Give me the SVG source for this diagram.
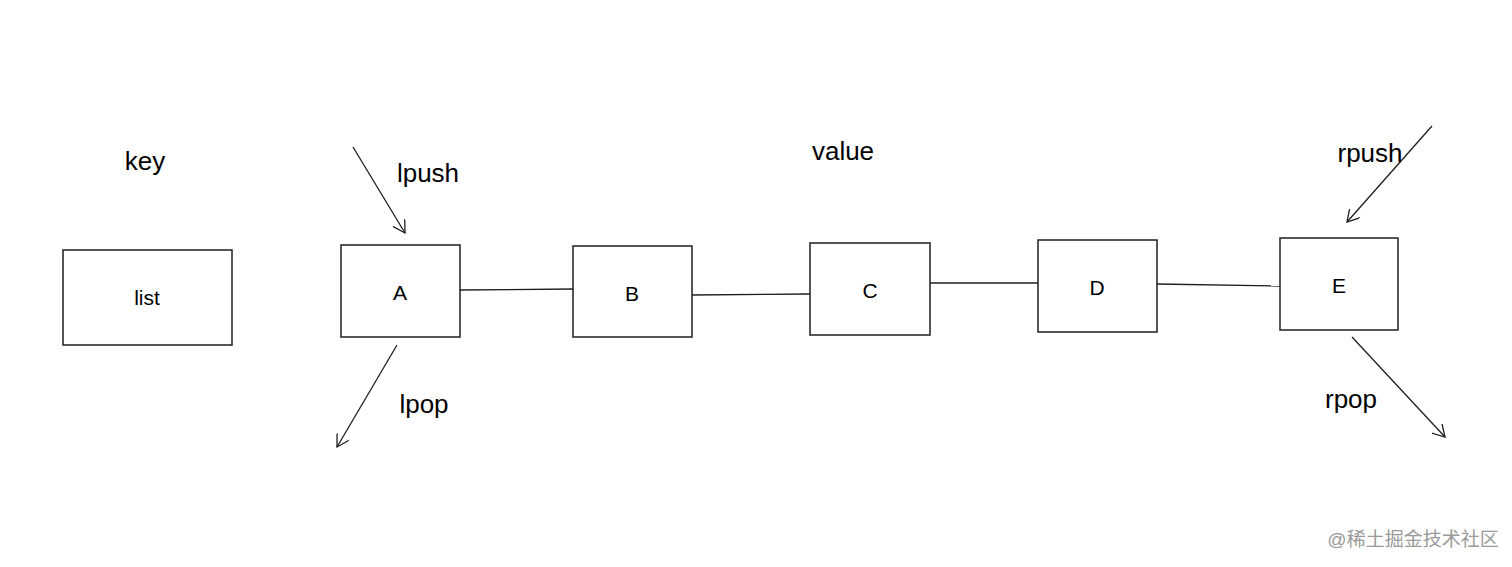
<svg xmlns="http://www.w3.org/2000/svg" width="1512" height="567" viewBox="0 0 1512 567">
<style>
.box{fill:none;stroke:#1e1e1e;stroke-width:1.5}
.ln{stroke:#1e1e1e;stroke-width:1.3;fill:none}
.t{font-family:"Comic Sans MS","Liberation Sans",sans-serif;font-size:26px;fill:#000;text-anchor:middle}
.n{font-family:"Liberation Sans",sans-serif;font-size:21px;fill:#000;text-anchor:middle}
.wm{font-family:"Liberation Sans","Noto Sans CJK SC",sans-serif;font-size:19px;fill:#9a9a9a;text-anchor:middle}
</style>
<defs><marker id="ah" markerWidth="14" markerHeight="14" refX="12" refY="7" orient="auto" markerUnits="userSpaceOnUse"><path d="M0,0 L12,7 L0,14" fill="none" stroke="#1e1e1e" stroke-width="1.3"/></marker></defs>
<rect width="1512" height="567" fill="#fff"/>
<g id="list"><rect class="box" x="63" y="250" width="169" height="95"/><text class="n" x="147" y="305">list</text></g>
<g id="A"><rect class="box" x="341" y="245" width="119" height="92"/><text class="n" x="400" y="300">A</text></g>
<g id="B"><rect class="box" x="573" y="246" width="119" height="91"/><text class="n" x="632" y="301">B</text></g>
<g id="C"><rect class="box" x="810" y="243" width="120" height="92"/><text class="n" x="870" y="298">C</text></g>
<g id="D"><rect class="box" x="1038" y="240" width="119" height="92"/><text class="n" x="1097" y="295">D</text></g>
<g id="E"><rect class="box" x="1280" y="238" width="118" height="92"/><text class="n" x="1339" y="293">E</text></g>
<g id="connectors">
<line class="ln" x1="460" y1="290" x2="573" y2="289"/>
<line class="ln" x1="692" y1="295" x2="810" y2="294"/>
<line class="ln" x1="930" y1="283" x2="1038" y2="283"/>
<line class="ln" x1="1157" y1="284" x2="1280" y2="286"/>
<line class="ln" x1="353" y1="147" x2="405" y2="233" marker-end="url(#ah)"/>
<line class="ln" x1="397" y1="345" x2="337" y2="447" marker-end="url(#ah)"/>
<line class="ln" x1="1432" y1="126" x2="1347" y2="222" marker-end="url(#ah)"/>
<line class="ln" x1="1352" y1="337" x2="1445" y2="437" marker-end="url(#ah)"/>
</g>
<text class="t" x="145" y="170">key</text>
<text class="t" x="428" y="182">lpush</text>
<text class="t" x="843" y="160">value</text>
<text class="t" x="1370" y="162">rpush</text>
<text class="t" x="424" y="413">lpop</text>
<text class="t" x="1351" y="408">rpop</text>
<text class="wm" x="1413" y="546">@稀土掘金技术社区</text>
</svg>
